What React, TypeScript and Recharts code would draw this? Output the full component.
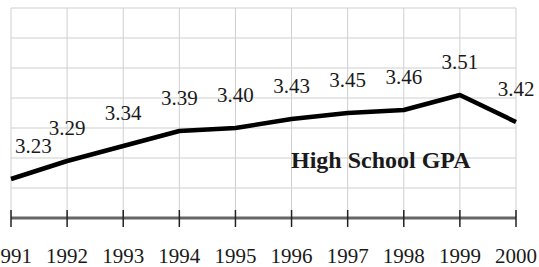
import { CartesianGrid, LabelList, Line, LineChart, XAxis, YAxis } from "recharts";

const years = ["1991", "1992", "1993", "1994", "1995", "1996", "1997", "1998", "1999", "2000"];
const gpa = [3.23, 3.29, 3.34, 3.39, 3.4, 3.43, 3.45, 3.46, 3.51, 3.42];
const yTicks = [3.1, 3.2, 3.3, 3.4, 3.5, 3.6, 3.7, 3.8];
const seriesName = "High School GPA";

const data = years.map((year, i) => ({ year, gpa: gpa[i] }));

const FONT = "'Liberation Serif', 'DejaVu Serif', serif";
const INK = "#1a1a1a";

function YearTick(props: any) {
  const { x, y, payload } = props;
  return (
    <g>
      <line x1={x} x2={x} y1={y - 8} y2={y + 9} stroke="#222" strokeWidth={1.5} />
      <text x={x} y={y + 45} textAnchor="middle" fontFamily={FONT} fontSize={21} fill={INK}>
        {payload.value}
      </text>
    </g>
  );
}

function ValueLabel(props: any) {
  const { x, y, value, index } = props;
  const first = index === 0;
  return (
    <text
      x={first ? x + 4 : x}
      y={y - 26}
      textAnchor={first ? "start" : "middle"}
      fontFamily={FONT}
      fontSize={21}
      fill={INK}
    >
      {Number(value).toFixed(2)}
    </text>
  );
}

export default function App() {
  return (
    <div style={{ position: "absolute", left: 0, top: 0, background: "#fff" }}>
      <LineChart
        width={539}
        height={267}
        data={data}
        margin={{ top: 8, right: 23, left: 11, bottom: 0 }}
      >
        <CartesianGrid stroke="#cfcfcf" strokeWidth={1} />
        <XAxis
          dataKey="year"
          height={49}
          interval={0}
          tickSize={0}
          tickMargin={0}
          tickLine={false}
          axisLine={{ stroke: "#666", strokeWidth: 3 }}
          tick={<YearTick />}
        />
        <YAxis hide domain={[3.1, 3.8]} ticks={yTicks} />
        <Line
          type="linear"
          dataKey="gpa"
          stroke="#000"
          strokeWidth={4.5}
          strokeLinejoin="round"
          dot={false}
          isAnimationActive={false}
        >
          <LabelList dataKey="gpa" content={<ValueLabel />} />
        </Line>
        <text x={291} y={168} fontFamily={FONT} fontSize={24} fontWeight="bold" fill={INK}>
          {seriesName}
        </text>
      </LineChart>
    </div>
  );
}
